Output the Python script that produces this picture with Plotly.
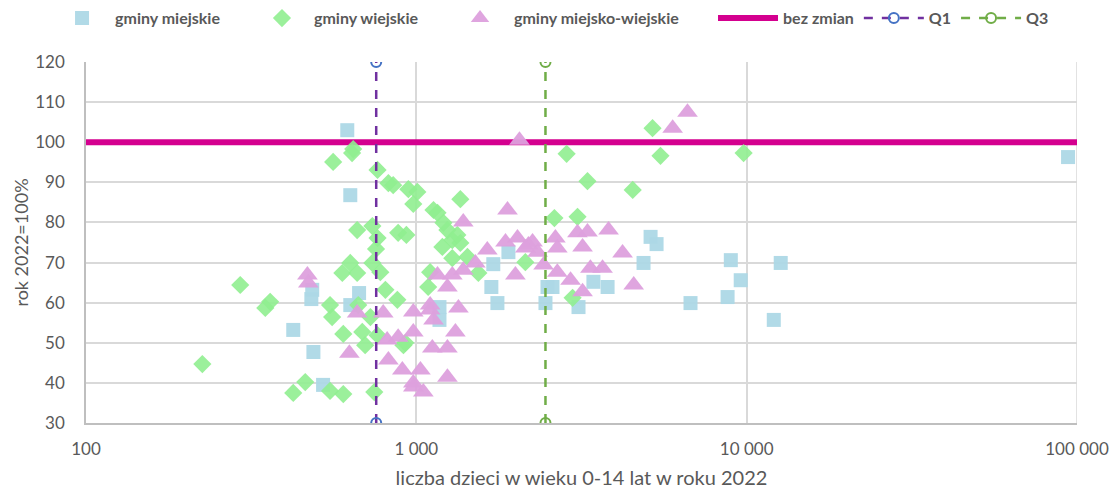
import plotly.graph_objects as go

# --- data ---
miejskie_x = [618, 631, 424, 484, 481, 488, 522, 671, 631, 1710, 1900, 1687, 1760, 2495, 2583, 2460,
              1175, 1175, 3436, 3793, 3097, 5118, 5337, 4873, 6761, 8954, 9594, 8755, 12680, 12080, 93950]
miejskie_y = [103.0, 86.8, 53.2, 63.2, 60.9, 47.7, 39.5, 62.4, 59.4, 69.6, 72.6, 63.9, 59.9, 63.9, 63.9, 59.9,
              58.9, 55.7, 65.2, 63.9, 58.9, 76.4, 74.6, 69.9, 59.9, 70.6, 65.6, 61.4, 69.9, 55.7, 96.3]

wiejskie_x = [225, 293, 361, 349, 461, 424, 548, 601, 746, 548, 556, 601, 686, 700, 763, 806, 876, 726, 667,
              778, 662, 597, 914, 560, 639, 644, 763, 823, 851, 946, 1007, 979, 1359, 1127, 1159, 1208, 662,
              736, 763, 755, 881, 933, 1199, 1285, 1359, 1285, 631, 736, 1101, 1541, 2138, 2851, 3297, 2618,
              3076, 5188, 5483, 4519, 9790, 1242, 1331, 1428, 1086, 2972, 926]
wiejskie_y = [44.7, 64.4, 60.2, 58.7, 40.2, 37.5, 38.0, 37.2, 37.7, 59.4, 56.4, 52.2, 52.7, 49.4, 51.9, 63.2,
              60.7, 56.4, 59.4, 67.6, 67.4, 67.4, 49.4, 95.1, 97.3, 98.3, 93.1, 89.8, 89.3, 88.3, 87.6, 84.6,
              85.8, 83.1, 82.4, 79.9, 78.1, 79.1, 76.1, 73.4, 77.4, 76.9, 73.9, 75.6, 74.9, 71.1, 69.9, 69.9,
              67.6, 67.4, 70.1, 97.1, 90.3, 81.1, 81.4, 103.5, 96.6, 88.1, 97.3, 78.1, 76.9, 71.4, 63.9, 61.2,
              50.0]

mw_x = [468, 471, 662, 794, 627, 816, 881, 979, 979, 1101, 1127, 1118, 823, 907, 1029, 979, 1050, 1159, 1242,
        1242, 1387, 1888, 1640, 1862, 2024, 2184, 2248, 2329, 2138, 1509, 1387, 1285, 1995, 2428, 2636, 2672,
        3074, 3186, 3297, 3819, 4210, 2672, 2930, 3186, 3365, 3662, 4550, 1101, 1341, 1313, 1242, 979, 2052,
        5970, 6620]
mw_y = [66.9, 64.9, 57.4, 57.4, 47.4, 50.7, 51.4, 52.7, 57.7, 58.2, 55.7, 48.7, 45.7, 43.2, 43.2, 40.0, 37.7,
        66.9, 63.9, 41.4, 80.1, 83.1, 73.1, 75.1, 76.1, 74.4, 75.1, 72.6, 73.6, 69.9, 68.1, 66.9, 66.9, 69.4,
        76.1, 73.6, 77.4, 73.9, 77.6, 78.1, 72.4, 67.6, 65.6, 62.7, 68.6, 68.6, 64.4, 59.4, 58.7, 52.7, 48.7,
        39.0, 100.5, 103.5, 107.5]

bez_zmian_x = [100, 100000]
bez_zmian_y = [100, 100]
q1_x = [756, 756]
q3_x = [2460, 2460]
q_y = [30, 120]

x_tickvals = [100, 1000, 10000, 100000]
x_ticktext = ["100", "1 000", "10 000", "100 000"]
y_tickvals = [30, 40, 50, 60, 70, 80, 90, 100, 110, 120]

FONT = "Lato, 'Open Sans', sans-serif"
GREY = "#595959"

fig = go.Figure()

fig.add_trace(go.Scatter(x=bez_zmian_x, y=bez_zmian_y, mode="lines", name="bez zmian", showlegend=True,
                         line=dict(color="#D4008F", width=6), legend="legend4", legendrank=4))
fig.add_trace(go.Scatter(x=miejskie_x, y=miejskie_y, mode="markers", name="gminy miejskie", showlegend=True,
                         marker=dict(symbol="square", size=14, color="#ADD8E6", opacity=0.95,
                                     line=dict(width=0)), legend="legend", legendrank=1))
fig.add_trace(go.Scatter(x=wiejskie_x, y=wiejskie_y, mode="markers", name="gminy wiejskie", showlegend=True,
                         marker=dict(symbol="diamond", size=14, color="#90EE90", opacity=0.9,
                                     line=dict(width=0)), legend="legend2", legendrank=2))
fig.add_trace(go.Scatter(x=mw_x, y=mw_y, mode="markers", name="gminy miejsko-wiejskie", showlegend=True,
                         marker=dict(symbol="triangle-up", size=18, color="#DDA0DD", opacity=0.95,
                                     line=dict(width=0)), legend="legend3", legendrank=3))
fig.add_trace(go.Scatter(x=q1_x, y=q_y, mode="lines+markers", name="Q1", showlegend=True,
                         line=dict(color="#7030A0", width=2.5, dash="dash"),
                         marker=dict(symbol="circle-open", size=10, color="#4472C4", line=dict(width=2)),
                         legend="legend4", legendrank=5))
fig.add_trace(go.Scatter(x=q3_x, y=q_y, mode="lines+markers", name="Q3", showlegend=True,
                         line=dict(color="#70AD47", width=2.5, dash="dash"),
                         marker=dict(symbol="circle-open", size=10, color="#70AD47", line=dict(width=2)),
                         legend="legend4", legendrank=6))

legend_font = dict(family=FONT, size=16, color=GREY, weight="bold")


def leg(x, w):
    return dict(orientation="h", xref="container", yref="container", x=x, xanchor="left",
                y=0.963, yanchor="middle", font=legend_font, bgcolor="rgba(0,0,0,0)",
                traceorder="normal", itemwidth=w, visible=True)


fig.update_layout(
    width=1112, height=490,
    showlegend=True,
    margin=dict(l=86, r=35, t=62, b=67, autoexpand=False),
    paper_bgcolor="white", plot_bgcolor="white",
    font=dict(family=FONT, color=GREY, size=16),
    legend=leg(0.0441, 56),
    legend2=leg(0.2248, 54),
    legend3=leg(0.4011, 58),
    legend4=leg(0.6412, 60),
    xaxis=dict(type="log", range=[2, 5], tickvals=x_tickvals, ticktext=x_ticktext,
               showgrid=True, gridcolor="#D9D9D9", gridwidth=1.5,
               showline=True, linecolor="#BFBFBF", linewidth=1.5, mirror=False,
               zeroline=False, ticks="", ticklabelstandoff=10, tickfont=dict(size=17),
               title=dict(text="liczba dzieci w wieku 0-14 lat w roku 2022", standoff=13,
                          font=dict(size=20, color=GREY))),
    yaxis=dict(range=[30, 120], tickvals=y_tickvals, showgrid=True, gridcolor="#D9D9D9", gridwidth=1.5,
               showline=True, linecolor="#BFBFBF", linewidth=1.5, zeroline=False, ticks="",
               ticklabelstandoff=16, tickfont=dict(size=17),
               title=dict(text="rok 2022=100%", standoff=2, font=dict(size=18, color=GREY))),
)
# right border line at 100 000 (gridline)
fig.add_shape(type="line", xref="x", yref="paper", x0=100000, x1=100000, y0=0, y1=1,
              line=dict(color="#D9D9D9", width=1.5), layer="below")

fig.write_html("out.html", config={"displayModeBar": False},
               post_script="document.body.style.margin='0';")
